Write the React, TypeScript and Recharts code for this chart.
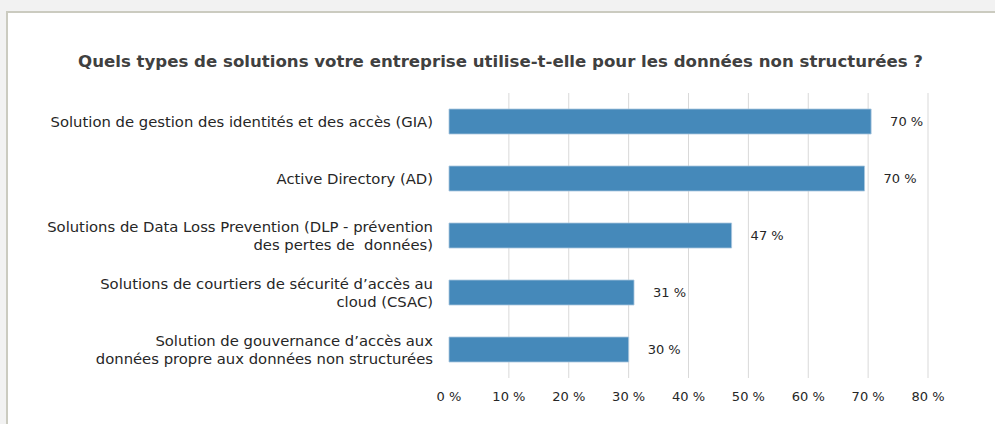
import React from "react";
import { BarChart, Bar, XAxis, YAxis, CartesianGrid, LabelList } from "recharts";

const categories = [
  "Solution de gestion des identités et des accès (GIA)",
  "Active Directory (AD)",
  "Solutions de Data Loss Prevention (DLP - prévention\ndes pertes de  données)",
  "Solutions de courtiers de sécurité d’accès au\ncloud (CSAC)",
  "Solution de gouvernance d’accès aux\ndonnées propre aux données non structurées",
];
const shares = [70.5, 69.4, 47.2, 30.9, 30.0];
const shareLabels = ["70 %", "70 %", "47 %", "31 %", "30 %"];
const xTicks = [0, 10, 20, 30, 40, 50, 60, 70, 80];
const gridTicks = [10, 20, 30, 40, 50, 60, 70, 80];

const data = categories.map((name, i) => ({ name, value: shares[i], label: shareLabels[i] }));

const FONT = "'DejaVu Sans', sans-serif";

const CategoryTick = (props: any) => {
  const { x, y, payload } = props;
  const lines = String(payload.value).split("\n");
  const lh = 18;
  const start = y - ((lines.length - 1) * lh) / 2;
  return (
    <text x={x} textAnchor="end" fontFamily={FONT} fontSize={14.8} fill="#262626">
      {lines.map((l, i) => (
        <tspan key={i} x={x} y={start + i * lh} dy="0.36em" style={{ whiteSpace: "pre" }}>
          {l}
        </tspan>
      ))}
    </text>
  );
};

export default function App() {
  return (
    <div style={{ position: "absolute", left: 0, top: 0, width: 995, height: 424, background: "#f2f2f2", overflow: "hidden" }}>
      <div
        style={{
          position: "absolute",
          left: 6,
          top: 11,
          width: 1000,
          height: 430,
          background: "#ffffff",
          borderLeft: "2px solid #cbcbc0",
          borderTop: "2px solid #cbcbc0",
        }}
      />
      <div
        style={{
          position: "absolute",
          left: 0,
          top: 52,
          width: 1001,
          textAlign: "center",
          fontFamily: FONT,
          fontWeight: 700,
          fontSize: 16.6,
          color: "#404040",
          whiteSpace: "nowrap",
        }}
      >
        Quels types de solutions votre entreprise utilise-t-elle pour les données non structurées ?
      </div>
      <div style={{ position: "absolute", left: 0, top: 0 }}>
        <BarChart
          width={995}
          height={424}
          data={data}
          layout="vertical"
          margin={{ top: 93, right: 67, bottom: 16, left: 0 }}
          barSize={25}
        >
          <CartesianGrid horizontal={false} stroke="#d9d9d9" verticalValues={gridTicks} />
          <XAxis
            type="number"
            domain={[0, 80]}
            ticks={xTicks}
            tickFormatter={(v: number) => `${v} %`}
            axisLine={false}
            tickLine={false}
            height={30}
            tickMargin={8}
            interval={0}
            tick={{ fontFamily: FONT, fontSize: 13, fill: "#262626" }}
          />
          <YAxis
            type="category"
            dataKey="name"
            width={449}
            axisLine={false}
            tickLine={false}
            tickMargin={10}
            interval={0}
            tick={<CategoryTick />}
          />
          <Bar dataKey="value" fill="#4589ba" stroke="#a9c7de" strokeWidth={0.8} isAnimationActive={false}>
            <LabelList
              dataKey="label"
              position="right"
              offset={19}
              style={{ fontFamily: FONT, fontSize: 13, fill: "#262626" }}
            />
          </Bar>
        </BarChart>
      </div>
    </div>
  );
}
